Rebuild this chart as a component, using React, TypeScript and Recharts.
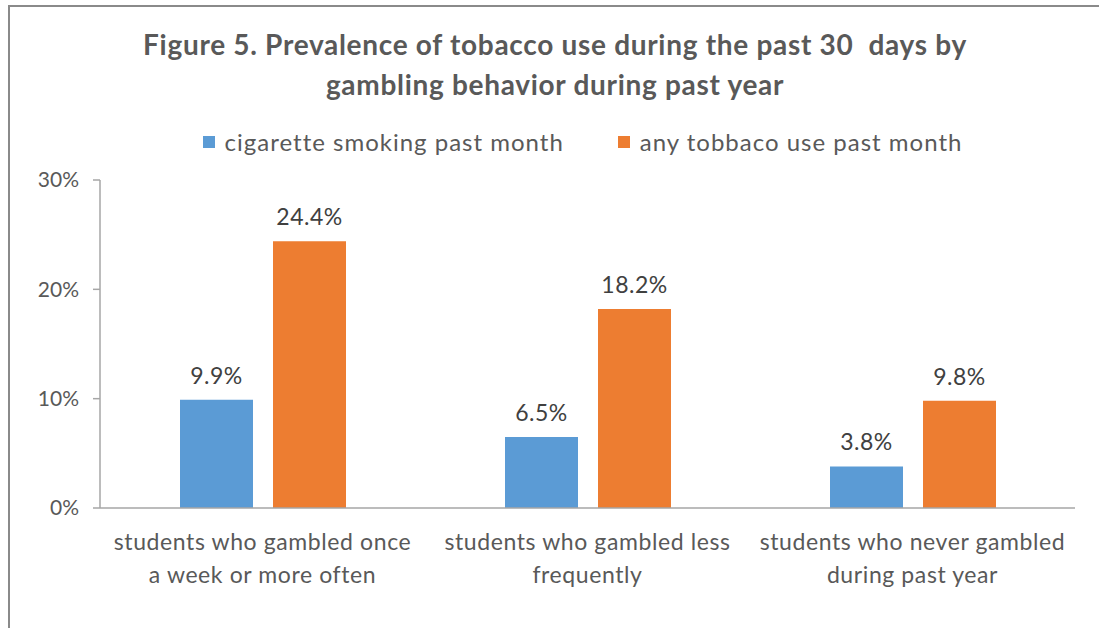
import { BarChart, Bar, XAxis, YAxis, LabelList } from "recharts";

const CATEGORY_LINES: string[][] = [
  ["students who gambled once", "a week or more often"],
  ["students who gambled less", "frequently"],
  ["students who never gambled", "during past year"],
];
const CIGARETTE = [9.9, 6.5, 3.8];
const ANY_TOBACCO = [24.4, 18.2, 9.8];
const Y_TICKS = [0, 10, 20, 30];
const SERIES = [
  { key: "cig", name: "cigarette smoking past month", color: "#5B9BD5" },
  { key: "any", name: "any tobbaco use past month", color: "#ED7D31" },
];
const TITLE = [
  "Figure 5. Prevalence of tobacco use during the past 30\u00a0 days by",
  "gambling behavior during past year",
];

const FONT = "Lato, 'Open Sans', sans-serif";
const TEXT = "#595959";
const AXIS = "#A6A6A6";

const data = CATEGORY_LINES.map((lines, i) => ({
  id: i,
  cig: CIGARETTE[i],
  any: ANY_TOBACCO[i],
}));

function CategoryTick(props: any) {
  const { x, y, payload } = props;
  const lines = CATEGORY_LINES[payload.value] ?? [];
  return (
    <text
      x={x}
      y={y}
      textAnchor="middle"
      fill={TEXT}
      fontSize={23}
      fontFamily={FONT}
      letterSpacing={0.6}
    >
      {lines.map((l, i) => (
        <tspan key={i} x={x} y={y + 34 + i * 33}>
          {l}
        </tspan>
      ))}
    </text>
  );
}

export default function App() {
  return (
    <div style={{ position: "absolute", left: 0, top: 0, width: 1099, height: 628, overflow: "hidden", background: "#fff", fontFamily: FONT }}>
      <div
        style={{
          position: "absolute",
          left: 8,
          top: 5,
          width: 1200,
          height: 700,
          borderLeft: "2px solid #8a8a8a",
          borderTop: "2px solid #8a8a8a",
        }}
      />
      <div
        style={{
          position: "absolute",
          left: 10,
          top: 24,
          width: 1090,
          textAlign: "center",
          color: TEXT,
          fontWeight: 700,
          fontSize: 28,
          letterSpacing: 0.7,
          lineHeight: "40px",
        }}
      >
        {TITLE.map((t) => (
          <div key={t}>{t}</div>
        ))}
      </div>
      <div
        style={{
          position: "absolute",
          left: 0,
          top: 127,
          width: 1165,
          display: "flex",
          justifyContent: "center",
          gap: 54,
          color: TEXT,
          fontSize: 24,
          letterSpacing: 1,
          lineHeight: "30px",
        }}
      >
        {SERIES.map((s) => (
          <div key={s.key} style={{ display: "flex", alignItems: "center" }}>
            <span style={{ display: "inline-block", width: 12, height: 12, background: s.color, marginRight: 10 }} />
            {s.name}
          </div>
        ))}
      </div>
      <div style={{ position: "absolute", left: 0, top: 0 }}>
        <BarChart
          width={1099}
          height={628}
          data={data}
          margin={{ top: 180, right: 24, bottom: 40, left: 40 }}
          barSize={73}
          barGap={20}
        >
          <XAxis
            dataKey="id"
            height={80}
            axisLine={{ stroke: AXIS, strokeWidth: 1.5 }}
            tickLine={false}
            tick={<CategoryTick />}
            interval={0}
          />
          <YAxis
            width={60}
            domain={[0, 30]}
            ticks={Y_TICKS}
            tickFormatter={(v) => `${v}%`}
            axisLine={{ stroke: AXIS, strokeWidth: 1.5 }}
            tickLine={{ stroke: AXIS, strokeWidth: 1.5 }}
            tickSize={7}
            tickMargin={14}
            tick={{ fill: TEXT, fontSize: 21, fontFamily: FONT }}
          />
          {SERIES.map((s) => (
            <Bar key={s.key} dataKey={s.key} name={s.name} fill={s.color} isAnimationActive={false}>
              <LabelList
                dataKey={s.key}
                position="top"
                offset={16}
                formatter={(v: any) => `${Number(v).toFixed(1)}%`}
                fill="#404040"
                fontSize={23}
                fontFamily={FONT}
                letterSpacing={0.5}
              />
            </Bar>
          ))}
        </BarChart>
      </div>
    </div>
  );
}
